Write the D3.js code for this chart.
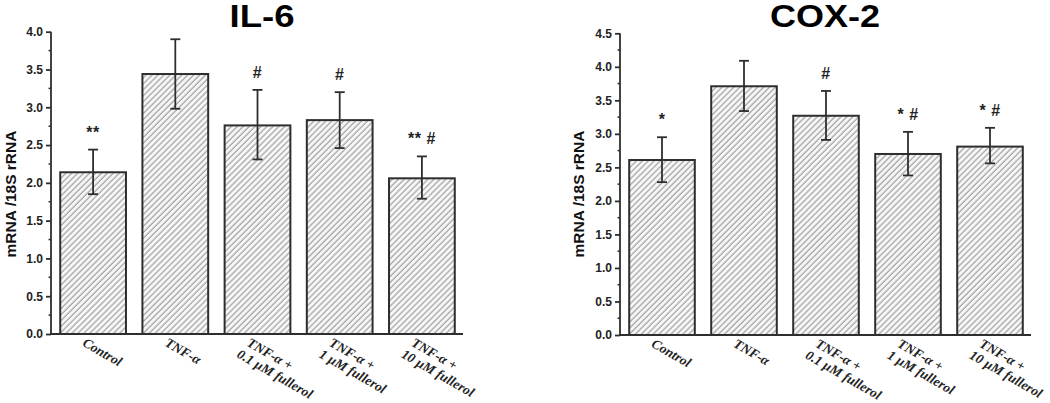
<!DOCTYPE html>
<html>
<head>
<meta charset="utf-8">
<script src="https://cdn.jsdelivr.net/npm/d3@7"></script>
<style>
  body { margin: 0; background: #fff; }
  svg { display: block; }
</style>
</head>
<body>
<svg id="grafico" width="1050" height="403"></svg>
<script>
// Datos
var categorias = ["Control", "TNF-α", "TNF-α +|0.1 µM fullerol", "TNF-α +|1 µM fullerol", "TNF-α +|10 µM fullerol"];

var il6Media = [2.14, 3.44, 2.76, 2.83, 2.06];
var il6ErrSup = [2.44, 3.90, 3.23, 3.20, 2.35];
var il6ErrInf = [1.85, 2.98, 2.31, 2.46, 1.79];
var il6Marcas = ["**", "", "#", "#", "** #"];
var il6Ticks = [0, 0.5, 1.0, 1.5, 2.0, 2.5, 3.0, 3.5, 4.0];

var coxMedia = [2.61, 3.71, 3.27, 2.70, 2.81];
var coxErrSup = [2.95, 4.09, 3.64, 3.03, 3.09];
var coxErrInf = [2.28, 3.34, 2.91, 2.38, 2.56];
var coxMarcas = ["*", "", "#", "* #", "* #"];
var coxTicks = [0, 0.5, 1.0, 1.5, 2.0, 2.5, 3.0, 3.5, 4.0, 4.5];

var svg = d3.select("#grafico");

// Patron de rayas diagonales
var defs = svg.append("defs");
defs.append("pattern")
    .attr("id", "rayado")
    .attr("patternUnits", "userSpaceOnUse")
    .attr("width", 4.2)
    .attr("height", 4.2)
    .attr("patternTransform", "rotate(45)")
    .call(function (p) {
        p.append("rect").attr("width", 4.2).attr("height", 4.2).attr("fill", "#f7f7f7");
        p.append("line").attr("x1", 1).attr("y1", 0).attr("x2", 1).attr("y2", 4.2)
            .attr("stroke", "#a0a0a0").attr("stroke-width", 1.2);
    });

function dibujarPanel(cfg) {
    var g = svg.append("g");

    var x = d3.scaleBand()
        .domain(categorias)
        .range([cfg.x0 + 1, cfg.x1])
        .paddingInner(0.2)
        .paddingOuter(0.1);

    var y = d3.scaleLinear()
        .domain([0, cfg.ymax])
        .range([cfg.y0, cfg.ytop]);

    var datos = categorias.map(function (c, i) {
        return { cat: c, v: cfg.media[i], sup: cfg.sup[i], inf: cfg.inf[i], marca: cfg.marcas[i] };
    });

    // barras
    g.selectAll(".barra")
        .data(datos)
        .join("rect")
        .attr("class", "barra")
        .attr("x", function (d) { return x(d.cat); })
        .attr("y", function (d) { return y(d.v); })
        .attr("width", x.bandwidth())
        .attr("height", function (d) { return y(0) - y(d.v); })
        .attr("fill", "url(#rayado)")
        .attr("stroke", "#2e2e2e")
        .attr("stroke-width", 2);

    // barras de error
    var err = g.selectAll(".err")
        .data(datos)
        .join("g")
        .attr("class", "err")
        .attr("stroke", "#2e2e2e")
        .attr("stroke-width", 1.8);
    err.append("line")
        .attr("x1", function (d) { return x(d.cat) + x.bandwidth() / 2; })
        .attr("x2", function (d) { return x(d.cat) + x.bandwidth() / 2; })
        .attr("y1", function (d) { return y(d.sup); })
        .attr("y2", function (d) { return y(d.inf); });
    err.append("line")
        .attr("x1", function (d) { return x(d.cat) + x.bandwidth() / 2 - 5; })
        .attr("x2", function (d) { return x(d.cat) + x.bandwidth() / 2 + 5; })
        .attr("y1", function (d) { return y(d.sup); })
        .attr("y2", function (d) { return y(d.sup); });
    err.append("line")
        .attr("x1", function (d) { return x(d.cat) + x.bandwidth() / 2 - 5; })
        .attr("x2", function (d) { return x(d.cat) + x.bandwidth() / 2 + 5; })
        .attr("y1", function (d) { return y(d.inf); })
        .attr("y2", function (d) { return y(d.inf); });

    // marcas de significancia
    g.selectAll(".marca")
        .data(datos)
        .join("text")
        .attr("class", "marca")
        .attr("x", function (d) { return x(d.cat) + x.bandwidth() / 2; })
        .attr("y", function (d) { return y(d.sup) - 12; })
        .attr("text-anchor", "middle")
        .style("font", "bold 16px 'Liberation Sans', Arial, sans-serif")
        .style("letter-spacing", "0.5px")
        .style("fill", "#222")
        .text(function (d) { return d.marca; });

    // eje Y
    var ejeY = g.append("g")
        .attr("transform", "translate(" + cfg.x0 + ",0)")
        .call(d3.axisLeft(y).tickValues(cfg.ticks).tickSize(5).tickPadding(3)
            .tickFormat(d3.format(".1f")));
    ejeY.select(".domain").attr("d", "M0," + cfg.y0 + "V" + cfg.ytop + "H0");
    ejeY.selectAll("line, path").attr("stroke", "#2e2e2e").attr("stroke-width", 1.8);
    ejeY.selectAll("text")
        .style("font", "bold 12px 'Liberation Sans', Arial, sans-serif")
        .style("fill", "#222");

    // ticks menores
    var menores = d3.range(0.25, cfg.ymax, 0.5);
    g.selectAll(".menor")
        .data(menores)
        .join("line")
        .attr("x1", cfg.x0 - 2.5).attr("x2", cfg.x0)
        .attr("y1", function (d) { return y(d); })
        .attr("y2", function (d) { return y(d); })
        .attr("stroke", "#2e2e2e")
        .attr("stroke-width", 1.5);

    // eje X
    g.append("line")
        .attr("x1", cfg.x0 - 1).attr("x2", cfg.x1)
        .attr("y1", cfg.y0).attr("y2", cfg.y0)
        .attr("stroke", "#2e2e2e")
        .attr("stroke-width", 2);

    // etiquetas X rotadas
    var etiquetas = g.selectAll(".etq")
        .data(datos)
        .join("text")
        .attr("class", "etq")
        .attr("transform", function (d) {
            return "translate(" + (x(d.cat) + x.bandwidth() / 2 - 6) + "," + (cfg.y0 + 2) + ") rotate(30)";
        })
        .style("font", "italic bold 13.5px 'Liberation Serif', 'Times New Roman', serif")
        .style("fill", "#222");
    etiquetas.selectAll("tspan")
        .data(function (d) { return d.cat.split("|"); })
        .join("tspan")
        .attr("x", function (d, i) { return i === 0 ? 0 : -3; })
        .attr("dy", function (d, i) { return i === 0 ? "0.8em" : "1.1em"; })
        .text(function (d) { return d; });

    // titulo del eje Y
    g.append("text")
        .attr("transform", "translate(" + cfg.labelX + "," + cfg.labelY + ") rotate(-90)")
        .attr("text-anchor", "middle")
        .style("font", "bold 15.5px 'Liberation Sans', Arial, sans-serif")
        .style("fill", "#111")
        .text("mRNA /18S rRNA");

    // titulo
    g.append("text")
        .attr("x", cfg.titleX)
        .attr("y", 27)
        .attr("text-anchor", "middle")
        .attr("textLength", cfg.titleLen)
        .attr("lengthAdjust", "spacingAndGlyphs")
        .style("font", "bold 31px 'Liberation Sans', Arial, sans-serif")
        .style("fill", "#000")
        .text(cfg.titulo);
}

dibujarPanel({
    titulo: "IL-6", titleX: 262, titleLen: 65,
    media: il6Media, sup: il6ErrSup, inf: il6ErrInf, marcas: il6Marcas, ticks: il6Ticks,
    ymax: 4.0, x0: 51, x1: 463, y0: 334, ytop: 31.7,
    labelX: 16, labelY: 194
});

dibujarPanel({
    titulo: "COX-2", titleX: 825, titleLen: 110,
    media: coxMedia, sup: coxErrSup, inf: coxErrInf, marcas: coxMarcas, ticks: coxTicks,
    ymax: 4.5, x0: 620, x1: 1031, y0: 335, ytop: 33.3,
    labelX: 584, labelY: 194
});
</script>
</body>
</html>
